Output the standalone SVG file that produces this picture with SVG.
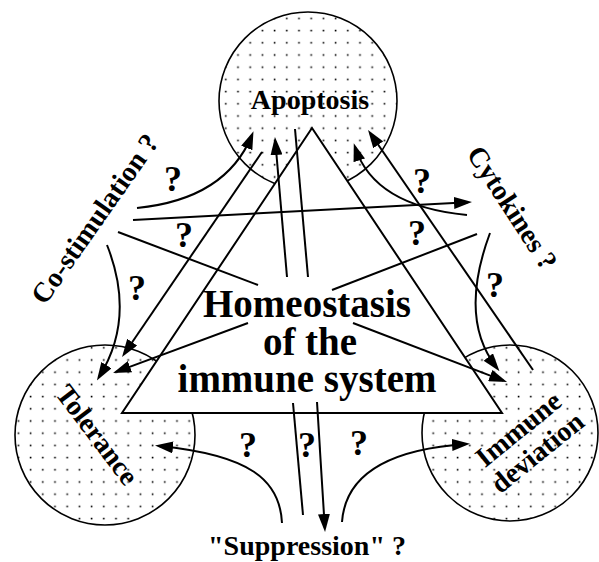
<svg xmlns="http://www.w3.org/2000/svg" width="599" height="562" viewBox="0 0 599 562">
<defs>
<pattern id="dots" patternUnits="userSpaceOnUse" width="12.2" height="12.2">
<rect x="0" y="0" width="12.2" height="12.2" fill="#fff"/>
<rect x="5.4" y="5.4" width="1.6" height="1.6" fill="#000"/>
</pattern>
<marker id="ah" markerUnits="userSpaceOnUse" viewBox="0 0 18 12" markerWidth="18" markerHeight="12" refX="14" refY="6" orient="auto">
<path d="M0,0 L18,6 L0,12 Z" fill="#000"/>
</marker>
<style>
.circ{fill:url(#dots);stroke:#000;stroke-width:1.6}
.tri{fill:#fff;stroke:#000;stroke-width:2}
.ln{fill:none;stroke:#000;stroke-width:2}
.arr{marker-end:url(#ah)}
.lbl{font-family:"Liberation Serif","Times New Roman",serif;font-weight:bold;font-size:28px;fill:#000;text-anchor:middle}
.big{font-family:"Liberation Serif","Times New Roman",serif;font-weight:bold;font-size:39px;fill:#000;text-anchor:middle}
.q{font-family:"Liberation Serif","Times New Roman",serif;font-weight:bold;font-size:36px;fill:#000;text-anchor:middle}
</style>
</defs>
<rect width="599" height="562" fill="#fff"/>

<g id="apoptosis">
<circle class="circ" cx="308" cy="101" r="89"/>
</g>
<g id="tolerance">
<circle class="circ" cx="105" cy="435" r="90"/>
</g>
<g id="immune-deviation">
<circle class="circ" cx="510" cy="433" r="88"/>
</g>
<g id="homeostasis">
<polygon class="tri" points="312,128 122,413 502,413"/>
</g>

<g id="connectors">
<path class="ln arr" d="M137,208 Q226,199 252,135"/>
<path class="ln arr" d="M133,220 L468,202.2"/>
<path class="ln" d="M118,232 L258,285"/>
<path class="ln arr" d="M107,245 Q136,318 99,377"/>
<path class="ln arr" d="M262,152 L124.3,353.7"/>
<path class="ln arr" d="M248,323 L116.8,371.6"/>
<path class="ln arr" d="M287,277 L275.3,141"/>
<path class="ln" d="M295,129 L308,277"/>
<path class="ln arr" d="M467,215 Q374,206 355,147"/>
<path class="ln arr" d="M533,370 L370.3,133.3"/>
<path class="ln" d="M477,234 L332,290"/>
<path class="ln arr" d="M490,233 Q458,319 497,368"/>
<path class="ln arr" d="M353,323 L503.3,380.6"/>
<path class="ln" d="M293,403 L303,515"/>
<path class="ln arr" d="M317,402 L324.8,528"/>
<path class="ln arr" d="M282,523 C280,480 250,455 159,446"/>
<path class="ln arr" d="M342,522 C345,480 380,450 466,444"/>
</g>

<g id="labels">
<text class="lbl" x="310" y="109">Apoptosis</text>
<text class="big" x="307" y="317">Homeostasis</text>
<text class="big" x="310" y="355">of the</text>
<text class="big" x="307" y="392">immune system</text>
<text class="lbl" transform="translate(95,219) rotate(-55)" y="9">Co-stimulation ?</text>
<text class="lbl" transform="translate(512,208) rotate(57)" y="9">Cytokines ?</text>
<text class="lbl" transform="translate(97,435) rotate(53)" y="9">Tolerance</text>
<g transform="translate(528,441) rotate(-39)">
<text class="lbl" y="-6">Immune</text>
<text class="lbl" y="24">deviation</text>
</g>
<text class="lbl" x="307" y="555">"Suppression" ?</text>
</g>

<g id="questions">
<text class="q" x="173" y="191">?</text>
<text class="q" x="184" y="247">?</text>
<text class="q" x="137" y="300">?</text>
<text class="q" x="422" y="193">?</text>
<text class="q" x="417" y="245">?</text>
<text class="q" x="495" y="297">?</text>
<text class="q" x="248" y="457">?</text>
<text class="q" x="307" y="457">?</text>
<text class="q" x="359" y="455">?</text>
</g>
</svg>
